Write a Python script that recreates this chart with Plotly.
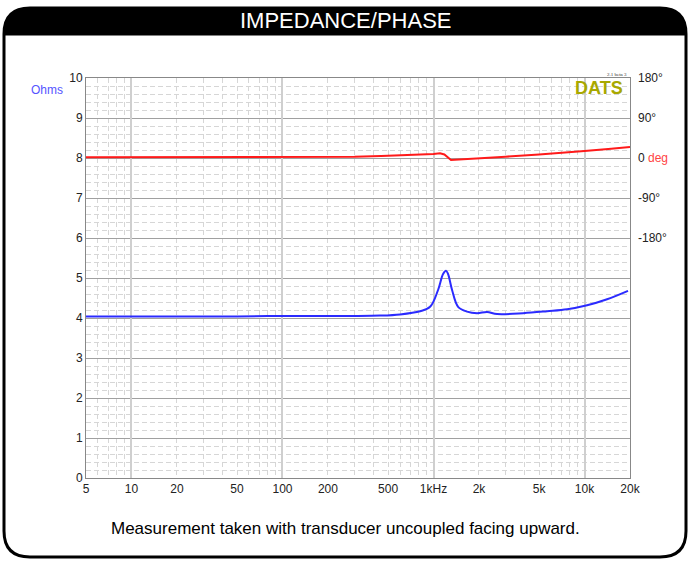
import math
import plotly.graph_objects as go

# ---- data ----
imp_freq = [5, 10, 20, 50, 100, 200, 300, 443, 600, 815, 949, 1072, 1157, 1210, 1248, 1327, 1455, 1668, 1942, 2263, 2636, 3920, 5650, 7670, 10400, 14100, 19400]
imp_ohm = [4.04, 4.04, 4.04, 4.04, 4.05, 4.05, 4.05, 4.06, 4.09, 4.17, 4.28, 4.7, 5.1, 5.18, 5.1, 4.7, 4.28, 4.16, 4.12, 4.15, 4.1, 4.12, 4.17, 4.22, 4.32, 4.47, 4.68]

ph_freq = [5, 50, 100, 300, 450, 700, 1000, 1104, 1180, 1306, 1500, 2000, 3000, 5000, 7500, 10000, 15000, 20000]
ph_deg = [1.5, 1.5, 2, 3, 4.5, 6.5, 9, 10.5, 8, -4.5, -3, -1, 3, 8, 12, 16, 21, 25]

x_tickvals = [5, 10, 20, 50, 100, 200, 500, 1000, 2000, 5000, 10000, 20000]
x_ticktext = ["5", "10", "20", "50", "100", "200", "500", "1kHz", "2k", "5k", "10k", "20k"]
decades = [10, 100, 1000, 10000]
minor_x = [m * d for d in [1, 10, 100, 1000, 10000] for m in range(2, 10) if 5 <= m * d <= 20000 and m * d not in decades]
y_ticks = list(range(0, 11))
ph_tickvals = [-180, -90, 0, 90, 180]
ph_ticktext = ["-180°", "-90°", "0 <span style='color:#ff4444'>deg</span>", "90°", "180°"]

W, H = 690, 561
L, R, T, B = 86, 630, 78, 478
FONT = "Liberation Sans, Arial, sans-serif"

def px(x):
    return (x - L) / (R - L)

def py(y):
    return (B - y) / (B - T)

fig = go.Figure()
fig.add_trace(go.Scatter(x=imp_freq, y=imp_ohm, mode="lines", line=dict(color="#2b2bff", width=2, shape="spline"),
                         xaxis="x", yaxis="y", showlegend=False))
fig.add_trace(go.Scatter(x=ph_freq, y=ph_deg, mode="lines", line=dict(color="#ff1a1a", width=2),
                         xaxis="x2", yaxis="y2", showlegend=False))

xr = [math.log10(5), math.log10(20000)]
DASH = "5px,3px"

fig.update_layout(
    width=W, height=H,
    margin=dict(l=L, r=W - R, t=T, b=H - B),
    paper_bgcolor="white", plot_bgcolor="white",
    font=dict(family=FONT, size=12, color="#222"),
    xaxis=dict(type="log", range=xr, tickmode="array", tickvals=x_tickvals, ticktext=x_ticktext,
               showgrid=False, zeroline=False, showline=True, linecolor="#888", linewidth=1, mirror=True,
               ticks="", tickfont=dict(size=12, color="#222")),
    xaxis2=dict(type="log", range=xr, overlaying="x", tickmode="array", tickvals=decades,
                showticklabels=False, showgrid=True, gridcolor="#cfcfcf", gridwidth=2, zeroline=False,
                minor=dict(tickmode="array", tickvals=minor_x, showgrid=True, gridcolor="#d6d6d6",
                           griddash=DASH, gridwidth=1, ticks="")),
    yaxis=dict(range=[0, 10], tickmode="array", tickvals=y_ticks, showgrid=True, gridcolor="#a0a0a0",
               gridwidth=1, zeroline=False, showline=True, linecolor="#888", linewidth=1, mirror=True,
               ticks="", tickfont=dict(size=12, color="#222"),
               minor=dict(dtick=0.2, showgrid=True, gridcolor="#d6d6d6", griddash=DASH, gridwidth=1)),
    yaxis2=dict(range=[-720, 180], overlaying="y", side="right", tickmode="array", tickvals=ph_tickvals,
                ticktext=ph_ticktext, showgrid=False, zeroline=False, ticks="", ticklabelstandoff=7,
                tickfont=dict(size=12, color="#222")),
)

shapes = []
r = 26
x0, x1, y0, y1 = 4, 686, 8, 557
frame = (f"M {px(x0)} {py(y0 + r)} L {px(x0)} {py(y1 - r)} Q {px(x0)} {py(y1)} {px(x0 + r)} {py(y1)} "
         f"L {px(x1 - r)} {py(y1)} Q {px(x1)} {py(y1)} {px(x1)} {py(y1 - r)} "
         f"L {px(x1)} {py(y0 + r)} Q {px(x1)} {py(y0)} {px(x1 - r)} {py(y0)} "
         f"L {px(x0 + r)} {py(y0)} Q {px(x0)} {py(y0)} {px(x0)} {py(y0 + r)} Z")
tb = 35
bar = (f"M {px(x0)} {py(tb)} L {px(x0)} {py(y0 + r)} Q {px(x0)} {py(y0)} {px(x0 + r)} {py(y0)} "
       f"L {px(x1 - r)} {py(y0)} Q {px(x1)} {py(y0)} {px(x1)} {py(y0 + r)} L {px(x1)} {py(tb)} Z")
shapes.append(dict(type="path", path=bar, xref="paper", yref="paper", fillcolor="black",
                   line=dict(color="black", width=1), layer="above"))
shapes.append(dict(type="path", path=frame, xref="paper", yref="paper", fillcolor="rgba(0,0,0,0)",
                   line=dict(color="black", width=3), layer="above"))
fig.update_layout(shapes=shapes)

ann = [
    dict(text="IMPEDANCE/PHASE", x=px(346), y=py(21), font=dict(size=22, color="white", family=FONT)),
    dict(text="Measurement taken with transducer uncoupled facing upward.", x=px(345), y=py(528),
         font=dict(size=17, color="black", family=FONT)),
    dict(text="Ohms", x=px(47), y=py(90), font=dict(size=12, color="#5555ff", family=FONT)),
    dict(text="<b>DATS</b>", x=px(599), y=py(88), font=dict(size=18, color="#a8a800", family=FONT)),
    dict(text="2.1 beta 3", x=px(617), y=py(74), font=dict(size=5, color="#333", family="Liberation Serif, serif")),
]
for a in ann:
    a.update(xref="paper", yref="paper", showarrow=False, xanchor="center", yanchor="middle")
fig.update_layout(annotations=ann)

fig.write_html("out.html", config={"displayModeBar": False},
               post_script="document.body.style.margin='0px';document.body.style.overflow='hidden';")
